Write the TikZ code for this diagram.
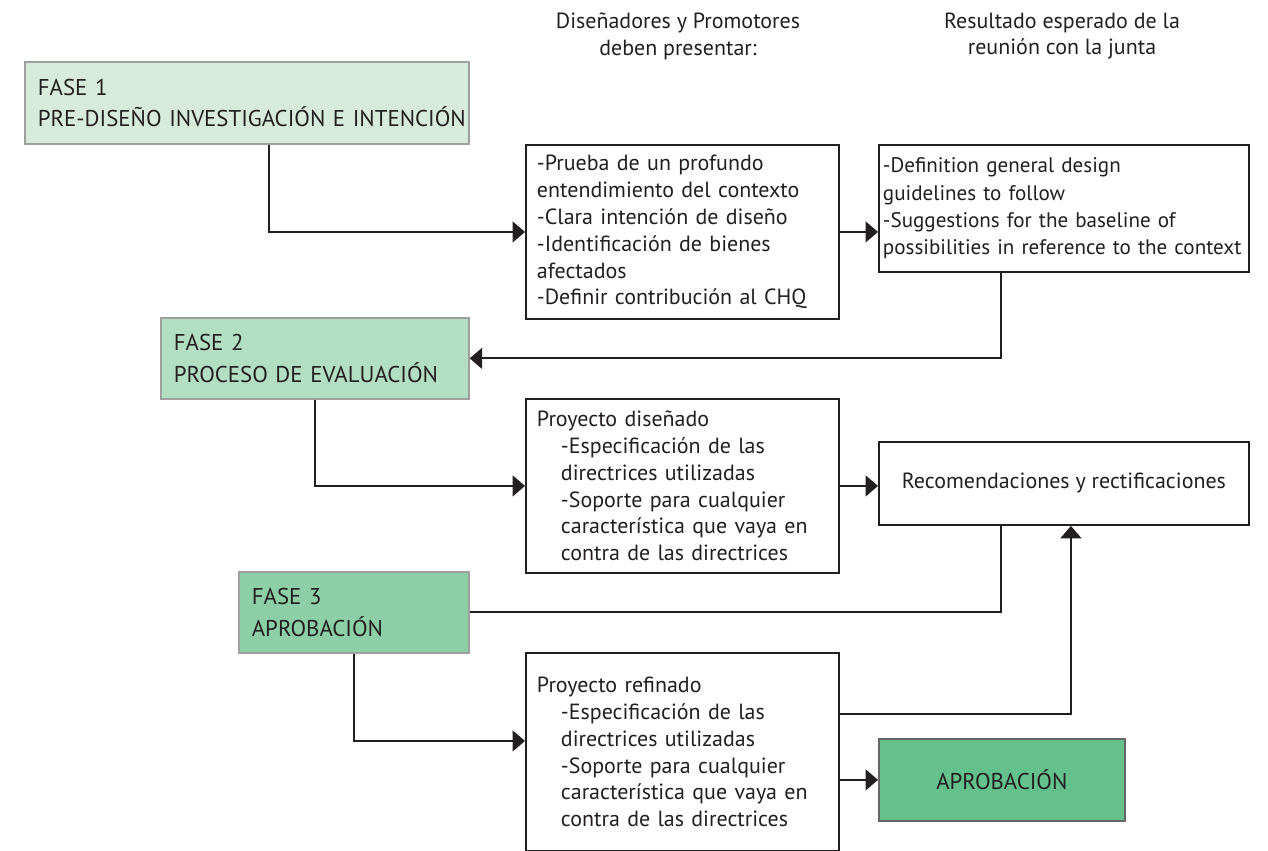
\documentclass[tikz,border=0pt]{standalone}
\usepackage{fontspec}
\setmainfont{PT Sans}
\usepackage{xcolor}
\usepackage{tikz}
\usetikzlibrary{arrows.meta,positioning}

\definecolor{faseuno}{HTML}{D6EBDC}
\definecolor{fasedos}{HTML}{B2DEC4}
\definecolor{fasetres}{HTML}{8CCFA6}
\definecolor{verdeok}{HTML}{64C18C}
\definecolor{tinta}{HTML}{231F20}
\hyphenpenalty=10000
\exhyphenpenalty=10000

\begin{document}
\begin{tikzpicture}[x=0.02cm, y=-0.02cm, >={Triangle[length=0.25cm,width=0.42cm]},
		font=\fontsize{12.5}{15.3}\selectfont, text=tinta,
		fasebox/.style={draw=gray!75, line width=1pt, anchor=north west, align=left, inner xsep=0.26cm,
			font=\fontsize{13}{18}\selectfont},
		infobox/.style={draw=tinta, line width=1.1pt, anchor=north west, align=left, inner xsep=0.22cm, fill=white},
		conn/.style={draw=tinta, line width=1.1pt}]
		\useasboundingbox (0,0) rectangle (1268,851);

		% Column headings
		\node[align=center] (hdis) at (678,36) {Diseñadores y Promotores\\deben presentar:};
		\node[align=center] (hres) at (1062,36) {Resultado esperado de la\\reunión con la junta};

		% Fase 1
		\node[fasebox, fill=faseuno, minimum width=8.88cm, minimum height=1.64cm, text width=8.36cm] (fase1) at (24,61) {FASE 1\\\mbox{PRE-DISEÑO INVESTIGACIÓN E INTENCIÓN}};
		\node[infobox, minimum width=6.26cm, minimum height=3.48cm, text width=5.82cm] (prueba) at (525,144) {-Prueba de un profundo\\entendimiento del contexto\\-Clara intención de diseño\\-Identificación de bienes\\afectados\\-Definir contribución al CHQ};
		\node[infobox, minimum width=7.4cm, minimum height=2.54cm, text width=7.24cm, inner xsep=0.08cm,
			font=\fontsize{12}{15.6}\selectfont] (guias) at (878,144) {-Definition general design\\guidelines to follow\\-Suggestions for the baseline of\\\mbox{possibilities in reference to the context}};

		% Fase 2
		\node[fasebox, fill=fasedos, minimum width=6.16cm, minimum height=1.62cm, text width=5.64cm] (fase2) at (160,317) {FASE 2\\PROCESO DE EVALUACIÓN};
		\node[infobox, minimum width=6.26cm, minimum height=3.48cm, text width=5.82cm] (disenado) at (525,398) {Proyecto diseñado\\\hspace*{0.48cm}-Especificación de las\\\hspace*{0.48cm}directrices utilizadas\\\hspace*{0.48cm}-Soporte para cualquier\\\hspace*{0.48cm}característica que vaya en\\\hspace*{0.48cm}contra de las directrices};
		\node[infobox, minimum width=7.4cm, minimum height=1.66cm, align=center] (recom) at (878,441) {Recomendaciones y rectificaciones};

		% Fase 3
		\node[fasebox, fill=fasetres, minimum width=4.6cm, minimum height=1.62cm, text width=4.08cm] (fase3) at (238,571) {FASE 3\\APROBACIÓN};
		\node[infobox, minimum width=6.26cm, minimum height=3.96cm, text width=5.82cm] (refinado) at (525,652) {Proyecto refinado\\\hspace*{0.48cm}-Especificación de las\\\hspace*{0.48cm}directrices utilizadas\\\hspace*{0.48cm}-Soporte para cualquier\\\hspace*{0.48cm}característica que vaya en\\\hspace*{0.48cm}contra de las directrices};
		\node[fasebox, draw=gray!120, fill=verdeok, minimum width=4.92cm, minimum height=1.64cm, align=center, text width=4.4cm] (aprob) at (878,738) {APROBACIÓN};

		% Connectors
		\draw[conn, ->] ([xshift=0.44cm]fase1.south) |- (prueba.west);
		\draw[conn, ->] (prueba.east) -- (prueba.east -| guias.west);
		\draw[conn, ->] ([xshift=-1.26cm]guias.south) |- (fase2.east);
		\draw[conn, ->] (fase2.south) |- (disenado.west);
		\draw[conn, ->] (disenado.east) -- (disenado.east -| recom.west);
		\draw[conn] ([xshift=-1.26cm]recom.south) |- (fase3.east);
		\draw[conn, ->] (fase3.south) |- ([yshift=0.22cm]refinado.west);
		\draw[conn, ->] ([yshift=0.76cm]refinado.east) -| ([xshift=0.14cm]recom.south);
		\draw[conn, ->] (aprob.west -| refinado.east) -- (aprob.west);
	\end{tikzpicture}
\end{document}
